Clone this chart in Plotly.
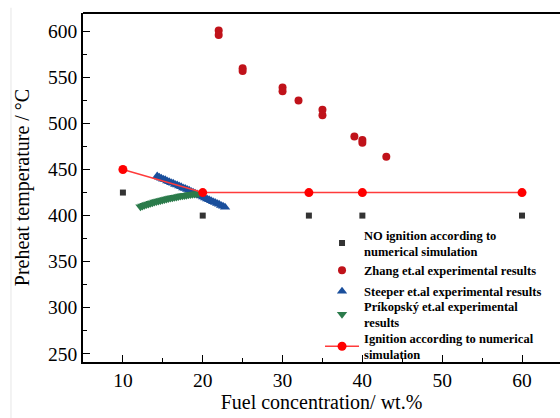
import plotly.graph_objects as go

# NO ignition according to numerical simulation
no_ign_x = [10, 20, 33.3, 40, 60]
no_ign_y = [425, 400, 400, 400, 400]

# Ignition according to numerical simulation
ign_x = [10, 20, 33.3, 40, 60]
ign_y = [450, 425, 425, 425, 425]

# Zhang et al. experimental results
zhang_x = [22, 22, 25, 25, 30, 30, 32, 35, 35, 39, 40, 40, 43]
zhang_y = [601, 596, 560, 557, 539, 535, 525, 515, 509, 486, 482, 479, 464]

# Steeper et al. experimental results
steeper_x = [14.3, 14.55, 14.8, 15.05, 15.3, 15.55, 15.8, 16.05, 16.3, 16.55,
             16.8, 17.05, 17.3, 17.55, 17.8, 18.05, 18.3, 18.55, 18.8, 19.05,
             19.3, 19.55, 19.8, 20.05, 20.3, 20.55, 20.8, 21.05, 21.3, 21.55,
             21.8, 22.05, 22.3, 22.55, 22.8]
steeper_y = [443.0, 441.5, 440.6, 439.4, 438.8, 437.5, 436.8, 435.6, 435.0, 433.8,
             433.1, 432.0, 431.2, 430.0, 429.3, 428.2, 427.4, 426.1, 425.4, 424.3,
             423.4, 422.1, 421.3, 420.2, 419.1, 418.0, 417.2, 416.0, 415.0, 414.1,
             413.0, 412.2, 411.0, 410.2, 409.0]

# Příkopský et al. experimental results
prikopsky_x = [12.2, 12.45, 12.7, 12.95, 13.2, 13.45, 13.7, 13.95, 14.2, 14.45,
               14.7, 14.95, 15.2, 15.45, 15.7, 15.95, 16.2, 16.45, 16.7, 16.95,
               17.2, 17.45, 17.7, 17.95, 18.2, 18.45, 18.7, 18.95, 19.2, 19.45]
prikopsky_y = [409.5, 410.4, 411.2, 412.0, 412.6, 413.4, 414.0, 414.7, 415.3, 415.8,
               416.5, 417.0, 417.6, 418.0, 418.6, 419.0, 419.5, 420.0, 420.3, 420.8,
               421.2, 421.5, 421.9, 422.2, 422.6, 422.9, 423.2, 423.5, 423.8, 424.0]

x_ticks = [10, 20, 30, 40, 50, 60]
y_ticks = [250, 300, 350, 400, 450, 500, 550, 600]

SERIF = "Liberation Serif"

fig = go.Figure()

fig.add_trace(go.Scatter(
    x=steeper_x, y=steeper_y, mode="markers",
    name="Steeper et.al experimental results",
    marker=dict(symbol="triangle-up", size=9, color="#1a4f9c"),
    legend="legend3",
))
fig.add_trace(go.Scatter(
    x=prikopsky_x, y=prikopsky_y, mode="markers",
    name="Príkopský et.al experimental<br>results",
    marker=dict(symbol="triangle-down", size=9, color="#2b7b4b"),
    legend="legend4",
))
fig.add_trace(go.Scatter(
    x=no_ign_x, y=no_ign_y, mode="markers",
    name="NO ignition according to<br>numerical simulation",
    marker=dict(symbol="square", size=6, color="#333333"),
    legend="legend",
))
fig.add_trace(go.Scatter(
    x=zhang_x, y=zhang_y, mode="markers",
    name="Zhang et.al experimental results",
    marker=dict(symbol="circle", size=8, color="#c0121a"),
    legend="legend2",
))
fig.add_trace(go.Scatter(
    x=ign_x, y=ign_y, mode="lines+markers",
    name="Ignition according to numerical<br>simulation",
    line=dict(color="#ff3b3b", width=1.5),
    marker=dict(symbol="circle", size=9, color="#ff0000"),
    legend="legend5",
))

axis_common = dict(
    showline=True, linecolor="black", linewidth=1.6,
    ticks="inside", ticklen=7, tickwidth=1.3, tickcolor="black",
    showgrid=False, zeroline=False,
    tickfont=dict(family=SERIF, size=19.5, color="black"),
)

fig.update_xaxes(
    range=[5, 64.76], tickvals=x_ticks,
    title=dict(text="Fuel concentration/ wt.%", standoff=0,
               font=dict(family=SERIF, size=20, color="black")),
    minor=dict(ticks="inside", ticklen=4, tickwidth=1.2, tickcolor="black", dtick=5),
    **axis_common,
)
fig.update_yaxes(
    range=[241, 620], tickvals=y_ticks,
    title=dict(text="Preheat temperature / °C", standoff=13,
               font=dict(family=SERIF, size=20, color="black")),
    minor=dict(ticks="inside", ticklen=4, tickwidth=1.2, tickcolor="black", dtick=25),
    **axis_common,
)

legend_font = dict(family=SERIF, size=12.5, color="black", weight="bold")


def legend_box(ypos):
    return dict(
        x=0.4969, y=ypos, xanchor="left", yanchor="middle",
        bgcolor="rgba(0,0,0,0)", borderwidth=0,
        font=legend_font, itemwidth=34, valign="middle",
    )


fig.update_layout(
    width=560, height=418,
    margin=dict(l=83, r=0, t=13, b=56),
    paper_bgcolor="white", plot_bgcolor="white",
    showlegend=True,
    legend=legend_box(0.3401),
    legend2=legend_box(0.2616),
    legend3=legend_box(0.2020),
    legend4=legend_box(0.1358),
    legend5=legend_box(0.0444),
    shapes=[
        # top frame line
        dict(type="line", xref="paper", yref="paper", x0=0, x1=1, y0=1, y1=1,
             line=dict(color="black", width=2)),
        # faint vertical rule at the left page edge
        dict(type="line", xref="paper", yref="paper", x0=-0.151, x1=-0.151,
             y0=-0.2, y1=1.015, line=dict(color="#e6e6e6", width=1)),
    ],
)

fig.write_html("out.html")
